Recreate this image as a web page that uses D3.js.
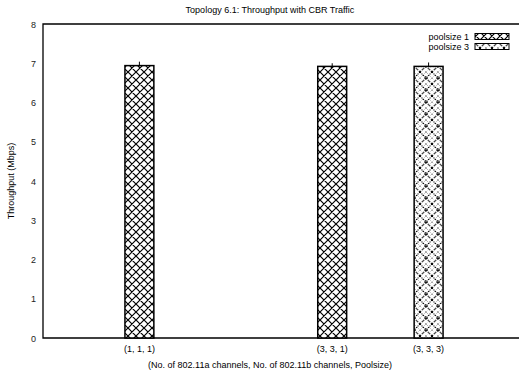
<!DOCTYPE html>
<html>
<head>
<meta charset="utf-8">
<script src="https://cdn.jsdelivr.net/npm/d3@7"></script>
<style>
body { margin: 0; background: #fff; }
text { font-family: "Liberation Sans", Arial, sans-serif; }
</style>
</head>
<body>
<svg id="chart" width="519" height="377"></svg>
<script>
var categories = ['(1, 1, 1)', '(3, 3, 1)', '(3, 3, 3)']
var catPos = [1, 3, 4]
var seriesNames = ['poolsize 1', 'poolsize 3']
var seriesOf = [0, 0, 1]
var values = [6.94, 6.92, 6.92]
var errLow = [6.92, 6.9, 6.9]
var errHigh = [7.04, 7.0, 7.02]
var yTicks = [0, 1, 2, 3, 4, 5, 6, 7, 8]

var svg = d3.select('#chart')
var margin = { left: 43, top: 24, bottom: 338 }
var xscale = d3.scaleLinear().domain([0, 5]).range([margin.left, 525])
var yscale = d3.scaleLinear().domain([0, 8]).range([margin.bottom, margin.top])

var defs = svg.append('defs')
var p1 = defs.append('pattern').attr('id', 'pat0').attr('patternUnits', 'userSpaceOnUse')
    .attr('width', 8).attr('height', 8)
p1.append('rect').attr('width', 8).attr('height', 8).attr('fill', '#fff')
p1.append('path').attr('d', 'M0,0L8,8M8,0L0,8M-1,7L1,9M7,-1L9,1M-1,1L1,-1M7,9L9,7')
    .attr('stroke', '#000').attr('stroke-width', 1.2)

// poolsize 3: dotted diamonds with little rings inside
var p2 = defs.append('pattern').attr('id', 'pat1').attr('patternUnits', 'userSpaceOnUse')
    .attr('width', 12).attr('height', 12)
p2.append('rect').attr('width', 12).attr('height', 12).attr('fill', '#fff')
p2.append('path').attr('d', 'M0,0L12,12M12,0L0,12')
    .attr('stroke', '#000').attr('stroke-width', 1.1).attr('stroke-dasharray', '1.2,1')
p2.append('path').attr('d', 'M6,0L12,6L6,12L0,6Z')
    .attr('fill', 'none').attr('stroke', '#000').attr('stroke-width', 0.6).attr('stroke-dasharray', '0.8,1.4')
p2.append('circle').attr('cx', 6).attr('cy', 6).attr('r', 1.5).attr('fill', 'none')
    .attr('stroke', '#000').attr('stroke-width', 0.8).attr('stroke-dasharray', '1,0.8')
p2.append('circle').attr('cx', 0).attr('cy', 0).attr('r', 1).attr('fill', '#000')
p2.append('circle').attr('cx', 12).attr('cy', 0).attr('r', 1).attr('fill', '#000')
p2.append('circle').attr('cx', 0).attr('cy', 12).attr('r', 1).attr('fill', '#000')
p2.append('circle').attr('cx', 12).attr('cy', 12).attr('r', 1).attr('fill', '#000')

// title
svg.append('text').text('Topology 6.1: Throughput with CBR Traffic')
    .attr('x', 270).attr('y', 13).attr('text-anchor', 'middle').attr('font-size', 9)

// border
svg.append('path')
    .attr('d', 'M519,' + margin.top + 'H' + margin.left + 'V' + margin.bottom + 'H519')
    .attr('fill', 'none').attr('stroke', '#000').attr('stroke-width', 1.3)

// y ticks
svg.append('g').selectAll('text').data(yTicks).enter()
    .append('text').text(d => d)
    .attr('x', 36).attr('y', d => yscale(d) + 3.5)
    .attr('text-anchor', 'end').attr('font-size', 9).attr('fill', '#222')

// x tick labels
svg.append('g').selectAll('text').data(categories).enter()
    .append('text').text(d => d)
    .attr('x', (d, i) => xscale(catPos[i])).attr('y', 352)
    .attr('text-anchor', 'middle').attr('font-size', 9)

var bw = xscale(0.3) - xscale(0)
svg.append('g').selectAll('rect').data(values).enter()
    .append('rect')
    .attr('x', (d, i) => xscale(catPos[i]) - bw / 2)
    .attr('y', d => yscale(d))
    .attr('width', bw)
    .attr('height', d => yscale(0) - yscale(d))
    .attr('fill', (d, i) => 'url(#pat' + seriesOf[i] + ')')
    .attr('stroke', '#000').attr('stroke-width', 1.5)

// error bars
svg.append('g').selectAll('line').data(values).enter()
    .append('line')
    .attr('x1', (d, i) => xscale(catPos[i])).attr('x2', (d, i) => xscale(catPos[i]))
    .attr('y1', (d, i) => yscale(errLow[i])).attr('y2', (d, i) => yscale(errHigh[i]))
    .attr('stroke', '#000').attr('stroke-width', 1)

// legend
var lg = svg.append('g')
lg.selectAll('text').data(seriesNames).enter()
    .append('text').text(d => d)
    .attr('x', 469).attr('y', (d, i) => 40 + i * 10)
    .attr('text-anchor', 'end').attr('font-size', 9)
lg.selectAll('rect').data(seriesNames).enter()
    .append('rect')
    .attr('x', 475).attr('y', (d, i) => 33.5 + i * 10)
    .attr('width', 34).attr('height', 6)
    .attr('fill', (d, i) => 'url(#pat' + i + ')')
    .attr('stroke', '#000').attr('stroke-width', 1)

// axis labels
svg.append('text').text('Throughput (Mbps)')
    .attr('transform', 'translate(14,' + ((margin.top + margin.bottom) / 2) + ') rotate(-90)')
    .attr('text-anchor', 'middle').attr('font-size', 9)
svg.append('text').text('(No. of 802.11a channels, No. of 802.11b channels, Poolsize)')
    .attr('x', 270).attr('y', 368).attr('text-anchor', 'middle').attr('font-size', 9)
</script>
</body>
</html>
